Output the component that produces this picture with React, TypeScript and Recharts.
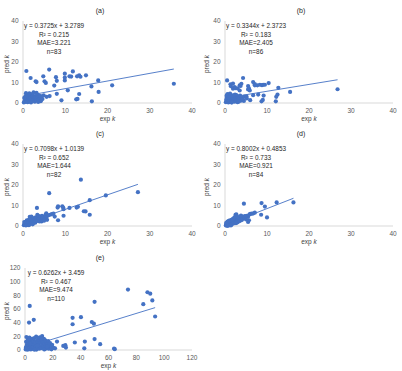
import { ScatterChart, Scatter, XAxis, YAxis, ReferenceLine } from 'recharts';

type Pt = { x: number; y: number };

const ticks40 = [0, 10, 20, 30, 40];
const ticks120 = [0, 20, 40, 60, 80, 100, 120];

const pointsA: Pt[] = [
    { x: 0.8, y: 15.6 }, { x: 6.2, y: 16.3 }, { x: 1.8, y: 12.2 }, { x: 3.0, y: 10.6 }, { x: 3.2, y: 10.2 },
    { x: 4.8, y: 13.0 }, { x: 5.1, y: 10.6 }, { x: 5.4, y: 9.8 }, { x: 7.8, y: 12.6 }, { x: 8.0, y: 10.8 },
    { x: 9.9, y: 14.3 }, { x: 9.9, y: 12.4 }, { x: 9.9, y: 11.0 }, { x: 11.0, y: 13.0 }, { x: 11.4, y: 12.9 },
    { x: 11.8, y: 15.4 }, { x: 12.8, y: 13.0 }, { x: 13.3, y: 13.5 }, { x: 13.6, y: 12.8 }, { x: 14.9, y: 13.5 },
    { x: 17.8, y: 11.0 }, { x: 16.2, y: 8.1 }, { x: 17.9, y: 5.4 }, { x: 21.1, y: 8.6 }, { x: 35.7, y: 9.4 },
    { x: 10.6, y: 6.2 }, { x: 13.3, y: 4.4 }, { x: 12.9, y: 2.0 }, { x: 12.6, y: 1.8 }, { x: 16.3, y: 0.8 },
    { x: 9.1, y: 1.3 }, { x: 8.0, y: 4.5 }, { x: 7.4, y: 8.5 }, { x: 6.3, y: 3.4 }, { x: 4.9, y: 3.7 },
    { x: 3.2, y: 4.9 }, { x: 0.2, y: 0.3 }, { x: 0.4, y: 1.1 }, { x: 0.5, y: 0.5 }, { x: 0.6, y: 2.0 },
    { x: 0.7, y: 4.8 }, { x: 0.8, y: 1.5 }, { x: 0.9, y: 0.8 }, { x: 1.0, y: 2.6 }, { x: 1.1, y: 0.4 },
    { x: 1.2, y: 1.9 }, { x: 1.3, y: 3.1 }, { x: 1.4, y: 1.2 }, { x: 1.5, y: 2.3 }, { x: 1.6, y: 0.7 },
    { x: 1.7, y: 3.6 }, { x: 1.8, y: 1.6 }, { x: 1.9, y: 2.8 }, { x: 2.0, y: 0.9 }, { x: 2.1, y: 2.1 },
    { x: 2.2, y: 3.9 }, { x: 2.3, y: 1.4 }, { x: 2.4, y: 2.7 }, { x: 2.5, y: 5.2 }, { x: 2.6, y: 1.8 },
    { x: 2.7, y: 3.3 }, { x: 2.8, y: 0.6 }, { x: 2.9, y: 2.4 }, { x: 3.0, y: 3.0 }, { x: 3.1, y: 1.3 },
    { x: 3.3, y: 2.2 }, { x: 3.4, y: 4.1 }, { x: 3.5, y: 2.9 }, { x: 3.7, y: 1.7 }, { x: 3.8, y: 3.6 },
    { x: 4.0, y: 2.5 }, { x: 4.2, y: 0.9 }, { x: 4.4, y: 3.2 }, { x: 1.1, y: 4.0 }, { x: 0.3, y: 2.5 },
    { x: 2.2, y: 4.4 }, { x: 1.5, y: 4.7 }, { x: 4.6, y: 1.9 }, { x: 5.6, y: 3.0 }, { x: 4.1, y: 3.3 },
    { x: 0.6, y: 3.4 }, { x: 1.9, y: 0.3 }, { x: 3.6, y: 0.5 },
];

const pointsB: Pt[] = [
    { x: 0.5, y: 11.0 }, { x: 4.3, y: 12.2 }, { x: 1.3, y: 9.1 }, { x: 1.4, y: 8.2 }, { x: 1.9, y: 9.5 },
    { x: 1.9, y: 7.0 }, { x: 2.3, y: 7.8 }, { x: 2.5, y: 7.2 }, { x: 3.0, y: 7.1 }, { x: 3.5, y: 8.6 },
    { x: 3.7, y: 8.3 }, { x: 3.9, y: 9.4 }, { x: 3.5, y: 6.1 }, { x: 5.5, y: 8.3 }, { x: 5.5, y: 6.6 },
    { x: 5.7, y: 7.1 }, { x: 5.9, y: 6.1 }, { x: 6.7, y: 10.2 }, { x: 7.1, y: 9.2 }, { x: 7.1, y: 8.6 },
    { x: 7.7, y: 8.6 }, { x: 8.3, y: 8.9 }, { x: 8.8, y: 8.7 }, { x: 9.1, y: 8.9 }, { x: 9.5, y: 8.9 },
    { x: 10.4, y: 9.7 }, { x: 12.7, y: 7.4 }, { x: 12.5, y: 4.1 }, { x: 12.2, y: 3.0 }, { x: 12.1, y: 0.8 },
    { x: 9.2, y: 3.6 }, { x: 9.0, y: 1.5 }, { x: 8.7, y: 0.8 }, { x: 15.5, y: 5.4 }, { x: 26.8, y: 6.7 },
    { x: 6.7, y: 3.8 }, { x: 7.9, y: 4.1 }, { x: 5.1, y: 3.3 }, { x: 4.5, y: 1.0 }, { x: 6.0, y: 1.4 },
    { x: 0.2, y: 0.4 }, { x: 0.3, y: 1.6 }, { x: 0.4, y: 2.9 }, { x: 0.5, y: 0.9 }, { x: 0.6, y: 4.3 },
    { x: 0.7, y: 2.2 }, { x: 0.8, y: 0.3 }, { x: 0.9, y: 1.4 }, { x: 1.0, y: 3.3 }, { x: 1.1, y: 0.8 },
    { x: 1.2, y: 2.0 }, { x: 1.3, y: 1.2 }, { x: 1.4, y: 3.8 }, { x: 1.5, y: 0.5 }, { x: 1.6, y: 2.6 },
    { x: 1.7, y: 1.7 }, { x: 1.8, y: 3.0 }, { x: 1.9, y: 0.9 }, { x: 2.0, y: 2.3 }, { x: 2.1, y: 1.3 },
    { x: 2.2, y: 3.5 }, { x: 2.3, y: 0.6 }, { x: 2.4, y: 2.0 }, { x: 2.5, y: 2.9 }, { x: 2.6, y: 1.0 },
    { x: 2.7, y: 3.9 }, { x: 2.8, y: 1.8 }, { x: 2.9, y: 2.5 }, { x: 3.0, y: 0.4 }, { x: 3.1, y: 3.2 },
    { x: 3.2, y: 1.5 }, { x: 3.4, y: 2.2 }, { x: 3.6, y: 3.6 }, { x: 3.8, y: 1.1 }, { x: 4.0, y: 2.7 },
    { x: 4.2, y: 1.9 }, { x: 4.6, y: 3.1 }, { x: 0.9, y: 2.6 }, { x: 1.6, y: 0.2 }, { x: 2.4, y: 4.1 },
    { x: 0.4, y: 3.7 }, { x: 1.2, y: 4.6 }, { x: 3.3, y: 0.7 }, { x: 5.2, y: 2.2 }, { x: 2.0, y: 3.7 },
];

const pointsC: Pt[] = [
    { x: 13.7, y: 22.6 }, { x: 6.2, y: 16.0 }, { x: 27.2, y: 16.5 }, { x: 19.6, y: 14.9 }, { x: 15.8, y: 12.6 },
    { x: 14.8, y: 7.1 }, { x: 15.8, y: 5.5 }, { x: 13.0, y: 9.4 }, { x: 11.0, y: 8.8 }, { x: 9.3, y: 9.6 },
    { x: 9.5, y: 9.0 }, { x: 9.6, y: 8.2 }, { x: 8.3, y: 9.6 }, { x: 8.2, y: 9.0 }, { x: 9.6, y: 5.0 },
    { x: 7.5, y: 4.6 }, { x: 8.3, y: 2.8 }, { x: 6.4, y: 5.5 }, { x: 5.7, y: 3.0 }, { x: 3.3, y: 8.8 },
    { x: 6.8, y: 5.8 }, { x: 5.5, y: 6.2 }, { x: 0.2, y: 0.4 }, { x: 0.4, y: 1.2 }, { x: 0.5, y: 0.6 },
    { x: 0.6, y: 2.0 }, { x: 0.8, y: 1.0 }, { x: 0.9, y: 2.8 }, { x: 1.0, y: 0.5 }, { x: 1.1, y: 1.6 },
    { x: 1.2, y: 2.4 }, { x: 1.3, y: 0.9 }, { x: 1.4, y: 3.1 }, { x: 1.5, y: 1.8 }, { x: 1.6, y: 4.5 },
    { x: 1.7, y: 2.2 }, { x: 1.8, y: 1.2 }, { x: 1.9, y: 3.0 }, { x: 2.0, y: 4.6 }, { x: 2.1, y: 2.0 },
    { x: 2.2, y: 1.4 }, { x: 2.3, y: 3.4 }, { x: 2.4, y: 2.6 }, { x: 2.5, y: 1.8 }, { x: 2.6, y: 3.9 },
    { x: 2.7, y: 2.3 }, { x: 2.8, y: 3.0 }, { x: 2.9, y: 1.6 }, { x: 3.0, y: 4.2 }, { x: 3.1, y: 2.7 },
    { x: 3.2, y: 3.5 }, { x: 3.4, y: 5.5 }, { x: 3.5, y: 2.5 }, { x: 3.6, y: 4.1 }, { x: 3.7, y: 3.2 },
    { x: 3.8, y: 4.8 }, { x: 3.9, y: 2.2 }, { x: 4.0, y: 3.7 }, { x: 4.2, y: 4.5 }, { x: 4.3, y: 3.0 },
    { x: 4.5, y: 5.0 }, { x: 4.7, y: 3.6 }, { x: 4.9, y: 4.3 }, { x: 5.1, y: 3.5 }, { x: 5.3, y: 5.3 },
    { x: 5.6, y: 4.6 }, { x: 6.0, y: 5.2 }, { x: 1.0, y: 1.4 }, { x: 0.7, y: 0.3 }, { x: 2.3, y: 0.8 },
    { x: 1.4, y: 0.4 }, { x: 0.3, y: 1.9 }, { x: 12.7, y: 9.0 }, { x: 14.4, y: 7.2 }, { x: 4.4, y: 2.2 },
    { x: 7.2, y: 6.0 }, { x: 5.0, y: 2.6 },
];

const pointsD: Pt[] = [
    { x: 16.3, y: 11.5 }, { x: 12.3, y: 11.5 }, { x: 8.7, y: 11.2 }, { x: 4.5, y: 10.9 }, { x: 9.5, y: 9.5 },
    { x: 10.0, y: 4.2 }, { x: 8.6, y: 5.5 }, { x: 6.0, y: 5.9 }, { x: 6.4, y: 6.0 }, { x: 6.7, y: 6.1 },
    { x: 7.1, y: 6.5 }, { x: 5.5, y: 4.5 }, { x: 5.7, y: 2.8 }, { x: 5.5, y: 2.0 }, { x: 4.3, y: 3.7 },
    { x: 2.5, y: 5.4 }, { x: 2.7, y: 5.7 }, { x: 4.9, y: 4.6 }, { x: 5.2, y: 5.0 }, { x: 5.8, y: 5.6 },
    { x: 0.2, y: 0.3 }, { x: 0.3, y: 0.9 }, { x: 0.4, y: 0.5 }, { x: 0.5, y: 1.3 }, { x: 0.6, y: 0.4 },
    { x: 0.7, y: 1.0 }, { x: 0.8, y: 1.7 }, { x: 0.9, y: 0.7 }, { x: 1.0, y: 1.4 }, { x: 1.1, y: 2.0 },
    { x: 1.2, y: 0.9 }, { x: 1.3, y: 1.6 }, { x: 1.4, y: 2.4 }, { x: 1.5, y: 1.2 }, { x: 1.6, y: 1.9 },
    { x: 1.7, y: 2.7 }, { x: 1.8, y: 1.5 }, { x: 1.9, y: 2.2 }, { x: 2.0, y: 3.0 }, { x: 2.1, y: 1.8 },
    { x: 2.2, y: 2.5 }, { x: 2.3, y: 3.3 }, { x: 2.4, y: 2.0 }, { x: 2.5, y: 2.8 }, { x: 2.6, y: 3.6 },
    { x: 2.7, y: 2.3 }, { x: 2.8, y: 3.0 }, { x: 2.9, y: 3.8 }, { x: 3.0, y: 2.6 }, { x: 3.1, y: 3.3 },
    { x: 3.2, y: 4.0 }, { x: 3.3, y: 2.9 }, { x: 3.4, y: 3.5 }, { x: 3.5, y: 4.2 }, { x: 3.6, y: 3.1 },
    { x: 3.7, y: 3.8 }, { x: 3.8, y: 4.4 }, { x: 3.9, y: 3.4 }, { x: 4.0, y: 4.0 }, { x: 4.1, y: 4.6 },
    { x: 4.2, y: 3.6 }, { x: 4.4, y: 4.3 }, { x: 4.6, y: 3.9 }, { x: 4.7, y: 4.8 }, { x: 0.5, y: 0.1 },
    { x: 1.0, y: 0.4 }, { x: 1.5, y: 0.6 }, { x: 2.0, y: 1.2 }, { x: 1.2, y: 2.8 }, { x: 0.6, y: 2.1 },
    { x: 1.8, y: 3.4 }, { x: 2.2, y: 4.1 }, { x: 3.0, y: 1.8 }, { x: 2.6, y: 1.4 }, { x: 3.5, y: 2.4 },
    { x: 0.3, y: 1.5 }, { x: 0.8, y: 0.2 }, { x: 1.4, y: 0.3 }, { x: 4.0, y: 2.9 }, { x: 5.0, y: 3.2 },
    { x: 0.9, y: 2.5 }, { x: 2.9, y: 4.6 }, { x: 1.6, y: 3.0 }, { x: 3.8, y: 5.1 },
];

const pointsE: Pt[] = [
    { x: 3.4, y: 64.5 }, { x: 2.9, y: 40.2 }, { x: 6.3, y: 44.1 }, { x: 34.2, y: 47.1 }, { x: 34.2, y: 37.7 },
    { x: 40.2, y: 48.1 }, { x: 48.0, y: 41.0 }, { x: 49.5, y: 38.5 }, { x: 50.0, y: 70.5 }, { x: 50.0, y: 16.0 },
    { x: 54.0, y: 8.5 }, { x: 64.0, y: 2.2 }, { x: 64.5, y: 1.2 }, { x: 74.0, y: 88.5 }, { x: 88.0, y: 84.5 },
    { x: 90.0, y: 82.5 }, { x: 85.0, y: 67.0 }, { x: 91.5, y: 72.5 }, { x: 93.5, y: 49.0 }, { x: 35.8, y: 11.0 },
    { x: 43.0, y: 12.4 }, { x: 42.6, y: 2.5 }, { x: 29.0, y: 7.0 }, { x: 29.4, y: 3.5 }, { x: 27.5, y: 6.0 },
    { x: 23.0, y: 12.4 }, { x: 21.6, y: 2.5 }, { x: 0.5, y: 0.8 }, { x: 0.8, y: 12.0 }, { x: 1.0, y: 5.0 },
    { x: 1.2, y: 2.0 }, { x: 1.5, y: 8.5 }, { x: 1.8, y: 0.5 }, { x: 2.0, y: 16.0 }, { x: 2.2, y: 3.5 },
    { x: 2.5, y: 10.0 }, { x: 2.8, y: 6.5 }, { x: 3.0, y: 1.2 }, { x: 3.2, y: 18.0 }, { x: 3.5, y: 4.0 },
    { x: 3.8, y: 13.0 }, { x: 4.0, y: 7.5 }, { x: 4.2, y: 0.8 }, { x: 4.5, y: 11.0 }, { x: 4.8, y: 2.8 },
    { x: 5.0, y: 16.5 }, { x: 5.2, y: 6.0 }, { x: 5.5, y: 9.0 }, { x: 5.8, y: 1.5 }, { x: 6.0, y: 13.5 },
    { x: 6.3, y: 4.5 }, { x: 6.6, y: 17.5 }, { x: 7.0, y: 8.0 }, { x: 7.2, y: 2.2 }, { x: 7.5, y: 11.5 },
    { x: 7.8, y: 5.5 }, { x: 8.0, y: 19.5 }, { x: 8.3, y: 0.6 }, { x: 8.6, y: 14.0 }, { x: 9.0, y: 9.5 },
    { x: 9.2, y: 3.2 }, { x: 9.5, y: 16.0 }, { x: 9.8, y: 7.0 }, { x: 10.0, y: 12.0 }, { x: 10.3, y: 1.8 },
    { x: 10.6, y: 18.5 }, { x: 11.0, y: 5.0 }, { x: 11.3, y: 10.5 }, { x: 11.6, y: 14.5 }, { x: 12.0, y: 2.8 },
    { x: 12.3, y: 20.5 }, { x: 12.6, y: 8.0 }, { x: 13.0, y: 12.5 }, { x: 13.3, y: 4.5 }, { x: 13.6, y: 16.5 },
    { x: 14.0, y: 9.5 }, { x: 14.3, y: 1.2 }, { x: 14.6, y: 14.0 }, { x: 15.0, y: 6.0 }, { x: 15.4, y: 11.0 },
    { x: 15.8, y: 3.5 }, { x: 16.2, y: 8.5 }, { x: 16.6, y: 13.0 }, { x: 17.0, y: 2.0 }, { x: 17.5, y: 6.5 },
    { x: 18.0, y: 10.0 }, { x: 18.5, y: 4.0 }, { x: 19.0, y: 1.0 }, { x: 1.0, y: 19.0 }, { x: 2.3, y: 13.5 },
    { x: 6.8, y: 0.4 }, { x: 8.8, y: 6.0 }, { x: 11.8, y: 17.0 }, { x: 0.6, y: 3.0 }, { x: 3.6, y: 9.5 },
    { x: 13.8, y: 0.8 }, { x: 16.0, y: 5.0 }, { x: 19.5, y: 7.5 }, { x: 20.5, y: 3.0 },
];

const fitA = { slope: 0.3725, intercept: 3.2789 };
const fitB = { slope: 0.3344, intercept: 2.3723 };
const fitC = { slope: 0.7098, intercept: 1.0139 };
const fitD = { slope: 0.8002, intercept: 0.4853 };
const fitE = { slope: 0.6262, intercept: 3.459 };

const statsA = ['y = 0.3725x + 3.2789', 'R² = 0.215', 'MAE=3.221', 'n=83'];
const statsB = ['y = 0.3344x + 2.3723', 'R² = 0.183', 'MAE=2.405', 'n=86'];
const statsC = ['y = 0.7098x + 1.0139', 'R² = 0.652', 'MAE=1.644', 'n=82'];
const statsD = ['y = 0.8002x + 0.4853', 'R² = 0.733', 'MAE=0.921', 'n=84'];
const statsE = ['y = 0.6262x + 3.459', 'R² = 0.467', 'MAE=9.474', 'n=110'];

const BLUE = '#4472C4';
const FONT = '"Liberation Sans", Arial, sans-serif';

const Dot = (props: any) => <circle cx={props.cx} cy={props.cy} r={2.1} fill={BLUE} />;

interface PanelProps {
    left: number;
    top: number;
    width: number;
    yAxisWidth: number;
    right: number;
    title: string;
    points: Pt[];
    fit: { slope: number; intercept: number };
    stats: string[];
    ticks: number[];
}

function Panel({ left, top, width, yAxisWidth, right, title, points, fit, stats, ticks }: PanelProps) {
    const height = 120;
    const plotTop = 21;
    const xAxisHeight = 17;
    const plotBottom = height - xAxisHeight;
    const plotRight = width - right;
    const max = ticks[ticks.length - 1];

    // trend line spans the observed x range
    const xs = points.map(p => p.x);
    const xMin = Math.min(...xs);
    const xMax = Math.max(...xs);

    const tickStyle = { fontSize: 6.5, fill: '#595959', fontFamily: FONT };

    return (
        <div style={{ position: 'absolute', left, top, width, height }}>
            <ScatterChart width={width} height={height} margin={{ top: plotTop, right, bottom: 0, left: 0 }}>
                <XAxis
                    type="number"
                    dataKey="x"
                    domain={[0, max]}
                    ticks={ticks}
                    interval={0}
                    height={xAxisHeight}
                    axisLine={{ stroke: '#d9d9d9' }}
                    tickLine={false}
                    tickSize={3}
                    tickMargin={2}
                    tick={tickStyle}
                />
                <YAxis
                    type="number"
                    dataKey="y"
                    domain={[0, max]}
                    ticks={ticks}
                    interval={0}
                    width={yAxisWidth}
                    axisLine={{ stroke: '#d9d9d9' }}
                    tickLine={false}
                    tickSize={3}
                    tickMargin={1.5}
                    tick={tickStyle}
                />
                <ReferenceLine
                    segment={[
                        { x: xMin, y: fit.slope * xMin + fit.intercept },
                        { x: xMax, y: fit.slope * xMax + fit.intercept },
                    ]}
                    stroke={BLUE}
                    strokeWidth={0.9}
                    ifOverflow="visible"
                />
                <Scatter data={points} shape={Dot} isAnimationActive={false} />
            </ScatterChart>

            <div style={{ position: 'absolute', left: width / 2, top: 10, transform: 'translate(-50%, -50%)', fontSize: 7, color: '#262626', whiteSpace: 'nowrap' }}>
                {title}
            </div>

            <div style={{ position: 'absolute', left: yAxisWidth + 31, top: plotTop + 1, transform: 'translateX(-50%)', fontSize: 6.4, lineHeight: '8.6px', color: '#262626', textAlign: 'center', whiteSpace: 'nowrap' }}>
                {stats.map(s => <div key={s}>{s}</div>)}
            </div>

            <div style={{ position: 'absolute', left: (yAxisWidth + plotRight) / 2, top: plotBottom + 15, transform: 'translate(-50%, -50%)', fontSize: 6.5, color: '#404040', whiteSpace: 'nowrap' }}>
                exp <i>k</i>
            </div>

            <div style={{ position: 'absolute', left: 6, top: (plotTop + plotBottom) / 2 + 2, transform: 'translate(-50%, -50%) rotate(-90deg)', fontSize: 6.5, color: '#404040', whiteSpace: 'nowrap' }}>
                pred <i>k</i>
            </div>
        </div>
    );
}

export default function App() {
    return (
        <div style={{ position: 'absolute', left: 0, top: 0, width: 402, height: 371, background: '#fff', fontFamily: FONT }}>
            <Panel left={0} top={0} width={200} yAxisWidth={23} right={8} title="(a)" points={pointsA} fit={fitA} stats={statsA} ticks={ticks40} />
            <Panel left={200} top={0} width={202} yAxisWidth={25} right={9} title="(b)" points={pointsB} fit={fitB} stats={statsB} ticks={ticks40} />
            <Panel left={0} top={123} width={200} yAxisWidth={23} right={8} title="(c)" points={pointsC} fit={fitC} stats={statsC} ticks={ticks40} />
            <Panel left={200} top={123} width={202} yAxisWidth={25} right={9} title="(d)" points={pointsD} fit={fitD} stats={statsD} ticks={ticks40} />
            <Panel left={0} top={247} width={200} yAxisWidth={25} right={8} title="(e)" points={pointsE} fit={fitE} stats={statsE} ticks={ticks120} />
        </div>
    );
}
